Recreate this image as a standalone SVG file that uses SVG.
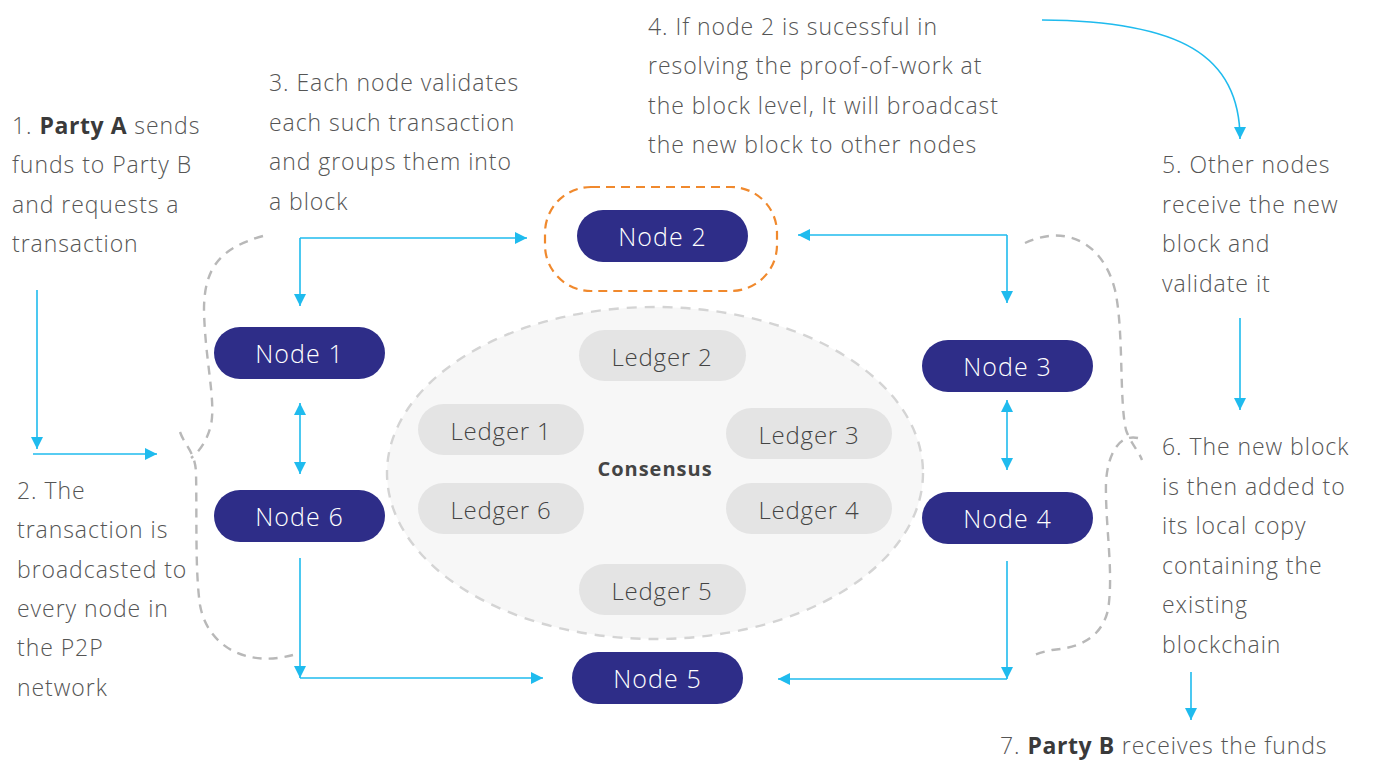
<svg xmlns="http://www.w3.org/2000/svg" width="1373" height="760" viewBox="0 0 1373 760">
  <defs>
    <marker id="arrow" viewBox="0 0 12 12" refX="12" refY="6" markerWidth="12" markerHeight="12" markerUnits="userSpaceOnUse" orient="auto-start-reverse">
      <path d="M0,0 L12,6 L0,12 Z" fill="#1fbbee"/>
    </marker>
    <style>
      .txt { font-family: "Open Sans", Lato, sans-serif; font-size: 23px; letter-spacing: 0.95px; fill: #555; font-weight: 300; }
      .txt tspan.b { font-weight: 700; fill: #3a3a3a; letter-spacing: 0.6px; }
      .node rect { fill: #2e2d88; }
      .node text { font-family: "Open Sans", Lato, sans-serif; font-size: 25px; letter-spacing: 1.1px; fill: #fff; text-anchor: middle; dominant-baseline: central; font-weight: 300; }
      .ledger rect { fill: #e4e4e4; }
      .ledger text { font-family: "Open Sans", Lato, sans-serif; font-size: 24px; letter-spacing: 0.8px; fill: #444; text-anchor: middle; dominant-baseline: central; font-weight: 300; }
      .conn { fill: none; stroke: #1fbbee; stroke-width: 1.6; }
      .loop { fill: none; stroke: #b8b8b8; stroke-width: 2.4; stroke-dasharray: 9 7; }
    </style>
  </defs>

  <rect width="1373" height="760" fill="#ffffff"/>

  <!-- consensus region -->
  <g id="consensus">
    <ellipse cx="655" cy="473" rx="268" ry="166" fill="#f7f7f7" stroke="#d4d4d4" stroke-width="2.4" stroke-dasharray="10 8"/>
    <text x="655" y="468" font-family="'Open Sans', Lato, sans-serif" font-size="20" letter-spacing="1" font-weight="700" fill="#444" text-anchor="middle" dominant-baseline="central">Consensus</text>
  </g>

  <!-- ledgers -->
  <g id="ledger-1" class="ledger"><rect x="418" y="404" width="166" height="51" rx="25.5"/><text x="501" y="430">Ledger 1</text></g>
  <g id="ledger-2" class="ledger"><rect x="579" y="330" width="167" height="51" rx="25.5"/><text x="662" y="356">Ledger 2</text></g>
  <g id="ledger-3" class="ledger"><rect x="726" y="408" width="166" height="51" rx="25.5"/><text x="809" y="434">Ledger 3</text></g>
  <g id="ledger-4" class="ledger"><rect x="726" y="483" width="166" height="51" rx="25.5"/><text x="809" y="509">Ledger 4</text></g>
  <g id="ledger-5" class="ledger"><rect x="579" y="564" width="167" height="51" rx="25.5"/><text x="662" y="590">Ledger 5</text></g>
  <g id="ledger-6" class="ledger"><rect x="418" y="483" width="166" height="51" rx="25.5"/><text x="501" y="509">Ledger 6</text></g>

  <!-- highlight around the mining node -->
  <rect id="node-2-highlight" x="545" y="187" width="232" height="104" rx="46" fill="none" stroke="#f0892d" stroke-width="2.2" stroke-dasharray="9 6"/>

  <!-- nodes -->
  <g id="node-1" class="node"><rect x="214" y="327" width="171" height="52" rx="26"/><text x="299.5" y="353">Node 1</text></g>
  <g id="node-2" class="node"><rect x="577" y="210" width="171" height="52" rx="26"/><text x="662.5" y="236">Node 2</text></g>
  <g id="node-3" class="node"><rect x="922" y="340" width="171" height="52" rx="26"/><text x="1007.5" y="366">Node 3</text></g>
  <g id="node-4" class="node"><rect x="922" y="492" width="171" height="52" rx="26"/><text x="1007.5" y="518">Node 4</text></g>
  <g id="node-5" class="node"><rect x="572" y="652" width="171" height="52" rx="26"/><text x="657.5" y="678">Node 5</text></g>
  <g id="node-6" class="node"><rect x="214" y="490" width="171" height="52" rx="26"/><text x="299.5" y="516">Node 6</text></g>

  <!-- connectors -->
  <g id="connectors">
    <path class="conn" d="M37,290 L37,449" marker-end="url(#arrow)"/>
    <path class="conn" d="M33,454 L157,454" marker-end="url(#arrow)"/>
    <path class="conn" d="M300,238 L527,238" marker-end="url(#arrow)"/>
    <path class="conn" d="M300,238 L300,306" marker-end="url(#arrow)"/>
    <path class="conn" d="M300,403 L300,474" marker-start="url(#arrow)" marker-end="url(#arrow)"/>
    <path class="conn" d="M300,558 L300,678" marker-end="url(#arrow)"/>
    <path class="conn" d="M300,678 L543,678" marker-end="url(#arrow)"/>
    <path class="conn" d="M1007,235 L798,235" marker-end="url(#arrow)"/>
    <path class="conn" d="M1007,235 L1007,303" marker-end="url(#arrow)"/>
    <path class="conn" d="M1007,400 L1007,470" marker-start="url(#arrow)" marker-end="url(#arrow)"/>
    <path class="conn" d="M1007,561 L1007,679" marker-end="url(#arrow)"/>
    <path class="conn" d="M1007,679 L778,679" marker-end="url(#arrow)"/>
    <path class="conn" d="M1042,20 C1180,21 1240,55 1240,139" marker-end="url(#arrow)"/>
    <path class="conn" d="M1240,318 L1240,410" marker-end="url(#arrow)"/>
    <path class="conn" d="M1191,672 L1191,720" marker-end="url(#arrow)"/>

    <!-- broadcast loops -->
    <path class="loop" d="M263,236 C220,248 204,268 204,310 C205,360 216,400 211,425 C207,441 199,452 191,458"/>
    <path class="loop" d="M180,432 C185,446 195,452 196,472 C197,520 195,570 200,605 C207,645 245,668 293,655"/>
    <path class="loop" d="M1025,243 C1065,224 1103,242 1115,290 C1124,330 1119,400 1126,430 C1130,442 1138,450 1142,460"/>
    <path class="loop" d="M1138,438 C1120,434 1108,452 1106,482 C1105,525 1114,572 1108,610 C1101,640 1076,648 1052,650 C1042,652 1036,654 1030,657"/>
  </g>

  <!-- step descriptions -->
  <text class="txt" x="12" y="134"><tspan>1. </tspan><tspan class="b">Party A</tspan><tspan> sends</tspan><tspan x="12" dy="39.3">funds to Party B</tspan><tspan x="12" dy="39.3">and requests a</tspan><tspan x="12" dy="39.3">transaction</tspan></text>
  <text class="txt" x="17" y="499"><tspan>2. The</tspan><tspan x="17" dy="39.3">transaction is</tspan><tspan x="17" dy="39.3">broadcasted to</tspan><tspan x="17" dy="39.3">every node in</tspan><tspan x="17" dy="39.3">the P2P</tspan><tspan x="17" dy="39.3">network</tspan></text>
  <text class="txt" x="269" y="91"><tspan>3. Each node validates</tspan><tspan x="269" dy="39.7">each such transaction</tspan><tspan x="269" dy="39.7">and groups them into</tspan><tspan x="269" dy="39.7">a block</tspan></text>
  <text class="txt" x="648" y="35"><tspan>4. If node 2 is sucessful in</tspan><tspan x="648" dy="39.3">resolving the proof-of-work at</tspan><tspan x="648" dy="39.3">the block level, It will broadcast</tspan><tspan x="648" dy="39.3">the new block to other nodes</tspan></text>
  <text class="txt" x="1162" y="173"><tspan>5. Other nodes</tspan><tspan x="1162" dy="39.6">receive the new</tspan><tspan x="1162" dy="39.6">block and</tspan><tspan x="1162" dy="39.6">validate it</tspan></text>
  <text class="txt" x="1162" y="455"><tspan>6. The new block</tspan><tspan x="1162" dy="39.6">is then added to</tspan><tspan x="1162" dy="39.6">its local copy</tspan><tspan x="1162" dy="39.6">containing the</tspan><tspan x="1162" dy="39.6">existing</tspan><tspan x="1162" dy="39.6">blockchain</tspan></text>
  <text class="txt" x="1000" y="754"><tspan>7. </tspan><tspan class="b">Party B</tspan><tspan> receives the funds</tspan></text>
</svg>
